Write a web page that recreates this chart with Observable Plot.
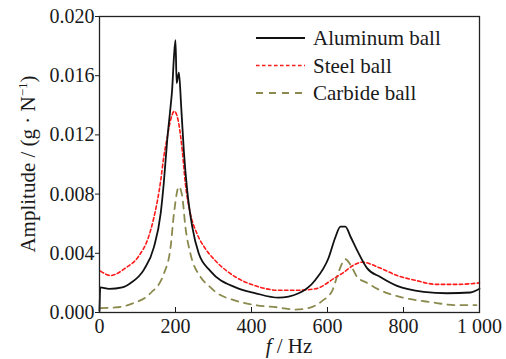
<!DOCTYPE html>
<html>
<head>
<meta charset="utf-8">
<script src="https://cdn.jsdelivr.net/npm/d3@7"></script>
<script src="https://cdn.jsdelivr.net/npm/@observablehq/plot@0.6"></script>
<style>
  html, body { margin: 0; padding: 0; background: #fff; }
</style>
</head>
<body>
<div id="chart"></div>
<script>
// Frequency response of the tool with three ball types (amplitude per unit force)
const aluminumFreq = [0, 2, 25, 60, 82, 117, 143, 161, 169, 178, 187, 191, 196, 200, 203, 209, 215, 222, 231, 244, 261, 292, 358, 411, 471, 524, 568, 603, 621, 634, 647, 661, 678, 704, 739, 783, 853, 915, 976, 1000];
const aluminumAmp = [0.0001, 0.0017, 0.0016, 0.0017, 0.0020, 0.0029, 0.0044, 0.0067, 0.0087, 0.0116, 0.0139, 0.0150, 0.0173, 0.0184, 0.0155, 0.0162, 0.0139, 0.0109, 0.0082, 0.0058, 0.0040, 0.0028, 0.0017, 0.0013, 0.0010, 0.0013, 0.0022, 0.0037, 0.0051, 0.0058, 0.0058, 0.0051, 0.0042, 0.0030, 0.0024, 0.0018, 0.0014, 0.0013, 0.00135, 0.0016];

const steelFreq = [3, 29, 68, 103, 129, 143, 161, 169, 178, 187, 197, 209, 218, 226, 239, 257, 279, 305, 358, 411, 471, 516, 568, 617, 642, 669, 691, 739, 783, 827, 888, 941, 1000];
const steelAmp = [0.0028, 0.0025, 0.0030, 0.0038, 0.0051, 0.0064, 0.0089, 0.0105, 0.0118, 0.0130, 0.0136, 0.0127, 0.0109, 0.0087, 0.0067, 0.0053, 0.0043, 0.0035, 0.0024, 0.0018, 0.0015, 0.0015, 0.0016, 0.0023, 0.0027, 0.0032, 0.0034, 0.0030, 0.0025, 0.0022, 0.0019, 0.0019, 0.0020];

const carbideFreq = [3, 42, 86, 134, 169, 187, 196, 209, 218, 226, 239, 266, 292, 305, 358, 411, 471, 516, 550, 587, 613, 630, 647, 661, 678, 704, 739, 800, 871, 941, 992];
const carbideAmp = [0.0003, 0.00034, 0.0006, 0.0013, 0.0026, 0.0044, 0.0067, 0.0085, 0.0078, 0.0058, 0.0040, 0.0024, 0.0017, 0.0014, 0.0008, 0.0005, 0.00034, 0.0002, 0.0003, 0.0008, 0.0015, 0.0028, 0.0036, 0.0032, 0.0024, 0.0020, 0.0015, 0.0010, 0.0007, 0.0005, 0.0005];

const xTicks = [0, 200, 400, 600, 800, 1000];
const yTicks = [0, 0.004, 0.008, 0.012, 0.016, 0.020];
const seriesNames = ["Aluminum ball", "Steel ball", "Carbide ball"];

const FONT = "Liberation Serif";

const toRows = (fs, as, name) => fs.map((f, i) => ({f, a: as[i], name}));
const aluminum = toRows(aluminumFreq, aluminumAmp, seriesNames[0]);
const steel = toRows(steelFreq, steelAmp, seriesNames[1]);
const carbide = toRows(carbideFreq, carbideAmp, seriesNames[2]);

const styles = [
  {stroke: "#111111", strokeWidth: 1.8, dash: null},
  {stroke: "#ff1a1a", strokeWidth: 1.6, dash: "3.5,2.5"},
  {stroke: "#8a8a4e", strokeWidth: 1.8, dash: "7,6"}
];

const spaced = d3.formatLocale({decimal: ".", thousands: " ", grouping: [3], currency: ["", ""]}).format(",d");

const chart = Plot.plot({
  width: 506,
  height: 359,
  marginLeft: 99,
  marginRight: 27,
  marginTop: 16,
  marginBottom: 47,
  style: {fontFamily: FONT, fontSize: "20px", color: "#1a1a1a", background: "#fff"},
  x: {domain: [0, 1000], ticks: xTicks, tickFormat: spaced, label: null},
  y: {domain: [0, 0.02], ticks: yTicks, tickFormat: d3.format(".3f"), label: null},
  marks: [
    Plot.axisX({ticks: xTicks, tickFormat: spaced, tickSize: -5, tickPadding: 11, label: null}),
    Plot.axisY({ticks: yTicks, tickFormat: d3.format(".3f"), tickSize: 4, tickPadding: 1, label: null}),
    Plot.line(carbide, {x: "f", y: "a", stroke: styles[2].stroke, strokeWidth: styles[2].strokeWidth, strokeDasharray: styles[2].dash, curve: "monotone-x"}),
    Plot.line(steel, {x: "f", y: "a", stroke: styles[1].stroke, strokeWidth: styles[1].strokeWidth, strokeDasharray: styles[1].dash, curve: "monotone-x"}),
    Plot.line(aluminum, {x: "f", y: "a", stroke: styles[0].stroke, strokeWidth: styles[0].strokeWidth, curve: "monotone-x"}),
    Plot.frame({stroke: "#222", strokeWidth: 1.3})
  ]
});

const svg = d3.select(chart);

// Legend in the upper right of the plot area
const legend = svg.append("g")
  .attr("font-size", 21)
  .attr("fill", "#1a1a1a").attr("text-anchor", "start");
seriesNames.forEach((name, i) => {
  const y = 38 + i * 27.5;
  legend.append("line")
    .attr("x1", 256).attr("x2", 305).attr("y1", y).attr("y2", y)
    .attr("stroke", styles[i].stroke)
    .attr("stroke-width", styles[i].strokeWidth)
    .attr("stroke-dasharray", styles[i].dash);
  legend.append("text").attr("x", 313).attr("y", y + 7)
    .style("font-family", FONT).text(name);
});

// Axis titles
const xTitle = svg.append("text")
  .attr("x", 289).attr("y", 353)
  .attr("text-anchor", "middle")
  .style("font-family", FONT).attr("font-size", 21).attr("fill", "#1a1a1a");
xTitle.append("tspan").attr("font-style", "italic").text("f");
xTitle.append("tspan").text(" / Hz");

const yTitle = svg.append("text")
  .attr("transform", "translate(35,164) rotate(-90)")
  .attr("text-anchor", "middle")
  .style("font-family", FONT).attr("font-size", 21).attr("fill", "#1a1a1a");
yTitle.append("tspan").text("Amplitude / (g · N");
yTitle.append("tspan").attr("font-size", 13).attr("dy", -8).text("−1");
yTitle.append("tspan").attr("dy", 8).text(")");

document.getElementById("chart").append(chart);
</script>
</body>
</html>
